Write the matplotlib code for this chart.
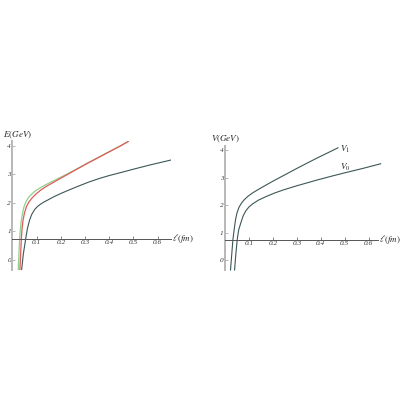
import matplotlib
matplotlib.use("Agg")
import matplotlib.pyplot as plt

# ---- data ----
# left panel E(l)
green_l = [0.024, 0.027, 0.030, 0.033, 0.037, 0.042, 0.048, 0.057, 0.069, 0.080, 0.090,
           0.100, 0.117, 0.138, 0.159, 0.190, 0.230, 0.270, 0.315, 0.360, 0.400, 0.440, 0.478]
green_E = [-0.35, 0.20, 0.75, 1.10, 1.40, 1.65, 1.87, 2.06, 2.22, 2.31, 2.39,
           2.45, 2.54, 2.64, 2.73, 2.86, 3.03, 3.21, 3.42, 3.62, 3.80, 3.97, 4.15]
red_l = [0.031, 0.034, 0.037, 0.040, 0.044, 0.050, 0.058, 0.068, 0.080, 0.090, 0.100,
         0.117, 0.138, 0.159, 0.190, 0.230, 0.270, 0.315, 0.360, 0.400, 0.440, 0.478]
red_E = [-0.35, 0.20, 0.75, 1.10, 1.40, 1.65, 1.87, 2.03, 2.16, 2.25, 2.33,
         2.45, 2.57, 2.67, 2.82, 3.01, 3.20, 3.41, 3.61, 3.79, 3.97, 4.15]
black_l = [0.038, 0.045, 0.055, 0.062, 0.071, 0.080, 0.092, 0.103, 0.115, 0.130, 0.150,
           0.172, 0.200, 0.230, 0.270, 0.315, 0.360, 0.400, 0.450, 0.508, 0.568, 0.658]
black_E = [-0.35, 0.20, 0.75, 1.10, 1.40, 1.60, 1.77, 1.87, 1.95, 2.03, 2.12,
           2.22, 2.33, 2.44, 2.58, 2.73, 2.86, 2.96, 3.07, 3.20, 3.33, 3.51]

# right panel V(l)
v1_l = [0.023, 0.028, 0.033, 0.038, 0.044, 0.050, 0.058, 0.068, 0.080, 0.096, 0.115,
        0.140, 0.172, 0.205, 0.244, 0.300, 0.340, 0.385, 0.430, 0.472]
v1_V = [-0.35, 0.20, 0.75, 1.10, 1.48, 1.72, 1.92, 2.07, 2.20, 2.33, 2.45,
        2.58, 2.74, 2.90, 3.08, 3.34, 3.52, 3.72, 3.91, 4.09]
v0_l = [0.040, 0.045, 0.051, 0.057, 0.066, 0.076, 0.087, 0.100, 0.115, 0.140, 0.172,
        0.205, 0.244, 0.300, 0.385, 0.450, 0.500, 0.580, 0.650]
v0_V = [-0.35, 0.20, 0.75, 1.10, 1.36, 1.62, 1.80, 1.94, 2.05, 2.19, 2.32,
        2.44, 2.56, 2.71, 2.92, 3.07, 3.18, 3.35, 3.51]

xticks = [0.1, 0.2, 0.3, 0.4, 0.5, 0.6]
xticklabels = ["0.1", "0.2", "0.3", "0.4", "0.5", "0.6"]
yticks = [0, 1, 2, 3, 4]
yticklabels = ["0", "1", "2", "3", "4"]

FAM = ["Liberation Serif", "DejaVu Serif"]
plt.rcParams["font.family"] = FAM
plt.rcParams["mathtext.fontset"] = "stix"

fig = plt.figure(figsize=(4, 4), dpi=100)
fig.patch.set_facecolor("white")

CURVE = "#3d5656"

def setup(ax, xmax, ylabel, ylab_x, ylab_y, ylab_ha):
    ax.set_xlim(0, xmax)
    ax.set_ylim(-0.35, 4.17)
    for s in ("top", "right"):
        ax.spines[s].set_visible(False)
    ax.spines["left"].set_position(("data", 0))
    ax.spines["bottom"].set_position(("data", 0.75))
    ax.spines["left"].set_color("#b8b8b8")
    ax.spines["left"].set_linewidth(1.4)
    ax.spines["bottom"].set_color("#555555")
    ax.spines["bottom"].set_linewidth(0.7)
    ax.set_xticks(xticks)
    ax.set_xticklabels(xticklabels, fontstyle="italic", fontsize=5.2)
    ax.set_yticks(yticks)
    ax.set_yticklabels(yticklabels, fontstyle="italic", fontsize=5.2)
    ax.tick_params(axis="x", direction="in", length=2, width=0.5, pad=1, colors="#555555")
    ax.tick_params(axis="y", direction="in", length=2, width=0.5, pad=1, colors="#999999")
    for t in ax.get_xticklabels() + ax.get_yticklabels():
        t.set_color("#333333")
    ax.patch.set_alpha(0)
    ax.text(xmax + 0.005, 0.75, r"$\ell(fm)$", fontsize=6.5, va="center", ha="left",
            color="#222222", clip_on=False)
    ax.text(ylab_x, ylab_y, ylabel, fontsize=6.5, va="center", ha=ylab_ha,
            color="#222222", clip_on=False)

axL = fig.add_axes([0.031, 0.325, 0.3965, 0.3225])
setup(axL, 0.655, r"$E(GeV)$", -0.040, 4.38, "left")
axL.plot(green_l, green_E, color="#8fd08f", lw=0.9)
axL.plot(red_l, red_E, color="#e05a5a", lw=0.9)
axL.plot(black_l, black_E, color=CURVE, lw=0.8)

axR = fig.add_axes([0.5625, 0.325, 0.383, 0.311])
setup(axR, 0.64, r"$V(GeV)$", 0.002, 4.39, "center")
axR.plot(v1_l, v1_V, color=CURVE, lw=0.8, clip_on=False)
axR.plot(v0_l, v0_V, color=CURVE, lw=0.8, clip_on=False)
axR.text(0.482, 4.03, r"$V_1$", fontsize=6.5, color="#222222", va="center")
axR.text(0.482, 3.39, r"$V_0$", fontsize=6.5, color="#222222", va="center")

fig.savefig("out.png", dpi=100, facecolor="white")
